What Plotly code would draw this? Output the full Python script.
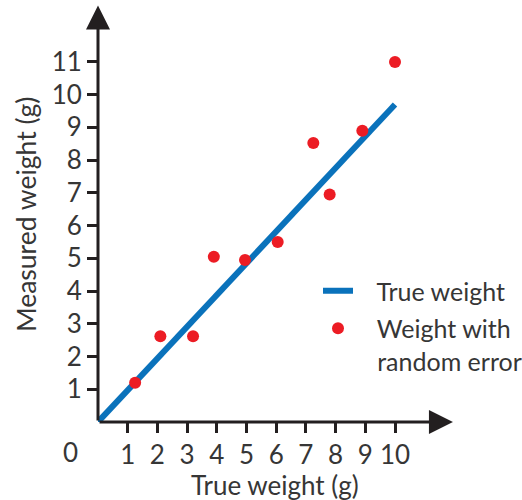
import plotly.graph_objects as go

# Measured vs. true weight data
true_line_x = [0, 10]
true_line_y = [0, 9.7]

sample_true = [1.25, 2.1, 3.2, 3.9, 4.95, 6.05, 7.25, 7.8, 8.9, 10.0]
sample_measured = [1.2, 2.62, 2.62, 5.05, 4.95, 5.5, 8.52, 6.95, 8.9, 11.0]

tick_vals = list(range(1, 12))
x_tick_vals = list(range(1, 11))

FONT = "Lato, 'Open Sans', sans-serif"
TXT = "#363636"
AXIS = "#231f20"
NB = "\u00a0\u00a0\u00a0"

W, H = 522, 500
L, R, B, T = 98, 2, 78, 3
X_MAX = (W - L - R) / 29.7

fig = go.Figure()

fig.add_trace(go.Scatter(
    x=true_line_x, y=true_line_y, mode="lines",
    line=dict(color="#0a72bb", width=6),
    name=NB + "True weight", legendgroup="a",
))
fig.add_trace(go.Scatter(
    x=sample_true, y=sample_measured, mode="markers",
    marker=dict(color="#ec1c24", size=12),
    name=NB + "Weight with<br>" + NB + "random error", legendgroup="b",
))

# Axis lines with arrowheads
fig.add_annotation(x=11.95, y=0, ax=0, ay=0, xref="x", yref="y", axref="x", ayref="y",
                   showarrow=True, arrowhead=2, arrowsize=1.6, arrowwidth=3,
                   arrowcolor=AXIS, text="")
fig.add_annotation(x=0, y=12.72, ax=0, ay=0, xref="x", yref="y", axref="x", ayref="y",
                   showarrow=True, arrowhead=2, arrowsize=1.6, arrowwidth=3,
                   arrowcolor=AXIS, text="")


def px_to_paper(px, py):
    return (px - L) / (W - L - R), (H - B - py) / (H - B - T)


# Origin label
ox, oy = px_to_paper(70, 452)
fig.add_annotation(x=ox, y=oy, xref="paper", yref="paper", text="0", showarrow=False,
                   xanchor="center", yanchor="middle",
                   font=dict(family=FONT, size=26, color=TXT))

# Axis titles
tx, ty = px_to_paper(26, 215)
fig.add_annotation(x=tx, y=ty, xref="paper", yref="paper", text="Measured weight (g)",
                   showarrow=False, textangle=-90, xanchor="center", yanchor="middle",
                   font=dict(family=FONT, size=26.5, color=TXT))
tx, ty = px_to_paper(275, 485)
fig.add_annotation(x=tx, y=ty, xref="paper", yref="paper", text="True weight (g)",
                   showarrow=False, xanchor="center", yanchor="middle",
                   font=dict(family=FONT, size=26, color=TXT))

lx, ly = px_to_paper(318, 268)

fig.update_layout(
    width=W, height=H,
    margin=dict(l=L, r=R, t=T, b=B, autoexpand=False),
    plot_bgcolor="white", paper_bgcolor="white",
    font=dict(family=FONT, size=26, color=TXT),
    showlegend=True,
    legend=dict(x=lx, y=ly, xanchor="left", yanchor="top", valign="top",
                bgcolor="rgba(0,0,0,0)", font=dict(size=25, color=TXT),
                tracegroupgap=2),
    xaxis=dict(range=[0, X_MAX], tickvals=x_tick_vals, ticks="outside", ticklen=10,
               tickwidth=3, tickcolor=AXIS, showgrid=False, zeroline=False,
               showline=False, ticklabelstandoff=0,
               tickfont=dict(family=FONT, size=26, color=TXT)),
    yaxis=dict(range=[0, 12.8], tickvals=tick_vals, ticks="outside", ticklen=10,
               tickwidth=3, tickcolor=AXIS, showgrid=False, zeroline=False,
               showline=False, ticklabelstandoff=0,
               tickfont=dict(family=FONT, size=26, color=TXT)),
)

fig.write_html("out.html")
